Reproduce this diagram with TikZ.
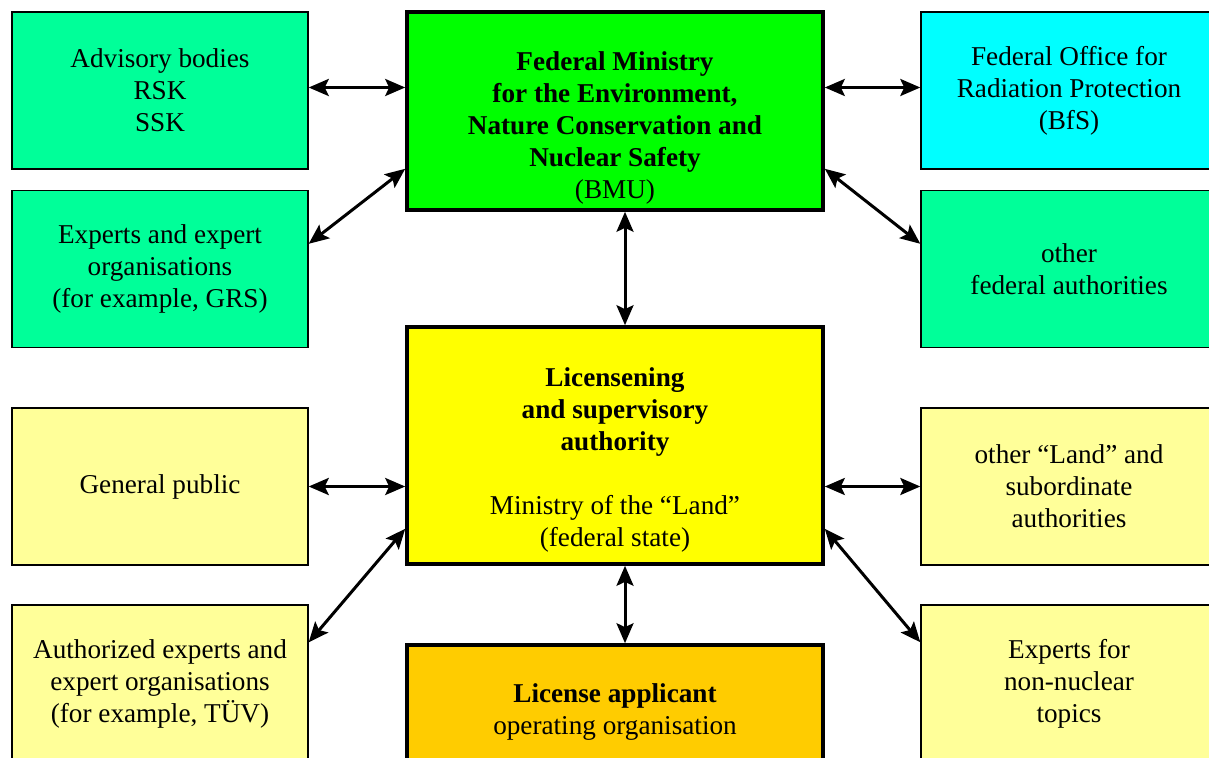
\documentclass[tikz,border=0pt]{standalone}
\usepackage{fontspec}
\setmainfont{Liberation Serif}
\usetikzlibrary{arrows.meta,positioning,calc}
\definecolor{advgreen}{HTML}{00FF99}
\definecolor{bmugreen}{HTML}{00FF00}
\definecolor{bfscyan}{HTML}{00FFFF}
\definecolor{licyellow}{HTML}{FFFF00}
\definecolor{paleyellow}{HTML}{FFFF99}
\definecolor{apporange}{HTML}{FFCC00}
\tikzstyle{smallblock} = [rectangle, draw, line width=0.7pt, align=center,
    minimum width=148pt, minimum height=78.5pt, inner sep=0pt]
\tikzstyle{bigblock} = [rectangle, draw, line width=1.8pt, inner sep=0pt,
    minimum width=208pt]
\tikzstyle{link} = [line width=1.5pt, {Stealth[length=10pt,width=8.5pt,inset=2pt]}-{Stealth[length=10pt,width=8.5pt,inset=2pt]}]
\tikzstyle{every node}=[font=\fontsize{13.6}{16}\selectfont]

\begin{document}
\begin{tikzpicture}[x=0.5pt,y=-0.5pt]
	\useasboundingbox (0,0) rectangle (1209,758);
	% Place nodes
	\node [bigblock, fill=bmugreen, minimum height=99pt] (bmu) at (615,111) {};
	\node [align=center] (bmutext) at ($(bmu)+(0,17)$) {\textbf{Federal Ministry}\\ \textbf{for the Environment,}\\ \textbf{Nature Conservation and}\\ \textbf{Nuclear Safety}\\ (BMU)};
	\node [bigblock, fill=licyellow, minimum height=118.5pt] (lic) at (615,445.5) {};
	\node [align=center] (lictext) at ($(lic)+(0,14)$) {\textbf{Licensening}\\ \textbf{and supervisory}\\ \textbf{authority}\\[16pt] Ministry of the “Land”\\ (federal state)};
	\node [bigblock, fill=apporange, minimum height=66pt] (app) at (615,711) {};
	\node [align=center] (apptext) at (615,712) {\textbf{License applicant}\\ operating organisation};
	
	\node [smallblock, fill=advgreen] (adv) at (160,90.5) {Advisory bodies\\ RSK\\ SSK};
	\node [smallblock, fill=advgreen] (grs) at (160,269) {Experts and expert\\ organisations\\ (for example, GRS)};
	\node [smallblock, fill=paleyellow] (pub) at (160,486.5) {General public};
	\node [smallblock, fill=paleyellow] (tuv) at (160,683.5) {Authorized experts and\\ expert organisations\\ (for example, TÜV)};
	
	\node [smallblock, fill=bfscyan] (bfs) at (1069,90.5) {Federal Office for\\ Radiation Protection\\ (BfS)};
	\node [smallblock, fill=advgreen] (fed) at (1069,269) {other\\ federal authorities};
	\node [smallblock, fill=paleyellow] (land) at (1069,486.5) {other “Land” and\\ subordinate\\ authorities};
	\node [smallblock, fill=paleyellow] (nonnuc) at (1069,683.5) {Experts for\\ non-nuclear\\ topics};
	
	% Draw edges
	\draw [link] ($(adv.east)+(0,-3)$) -- ($(adv.east -| bmu.west)+(0,-3)$);
	\draw [link] ($(grs.north east)+(0,54)$) -- ($(bmu.south west)+(0,-43)$);
	\draw [link] ($(bfs.west)+(0,-3)$) -- ($(bfs.west -| bmu.east)+(0,-3)$);
	\draw [link] ($(fed.north west)+(0,54)$) -- ($(bmu.south east)+(0,-43)$);
	\draw [link] ($(bmu.south)+(10,0)$) -- ($(lic.north)+(10,0)$);
	\draw [link] (pub.east) -- (pub.east -| lic.west);
	\draw [link] (land.west) -- (land.west -| lic.east);
	\draw [link] ($(tuv.north east)+(0,38)$) -- ($(lic.south west)+(0,-37)$);
	\draw [link] ($(nonnuc.north west)+(0,38)$) -- ($(lic.south east)+(0,-37)$);
	\draw [link] ($(lic.south)+(10,0)$) -- ($(app.north)+(10,0)$);
\end{tikzpicture}
\end{document}
